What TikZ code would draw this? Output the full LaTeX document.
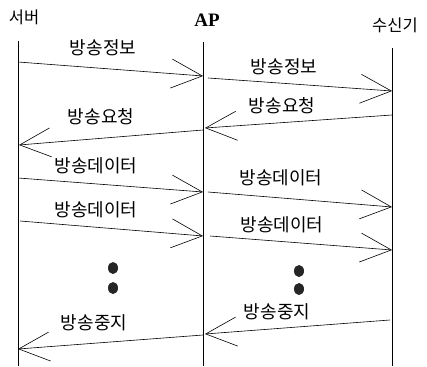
\documentclass[tikz,border=0pt]{standalone}
\usepackage{fontspec}
\newfontfamily\kr{Noto Sans CJK KR}
\newfontfamily\apfont{Liberation Serif}
\usetikzlibrary{arrows.meta,shapes.geometric}
\tikzset{
  life/.style={line width=0.7pt},
  msg/.style={line width=0.6pt,-{Straight Barb[length=31pt,width=29pt,line width=0.6pt]}},
  lbl/.style={font=\kr\fontsize{18}{18}\selectfont,inner sep=0pt},
  title/.style={font=\kr\fontsize{16.5}{16.5}\selectfont,inner sep=0pt},
  dot/.style={ellipse,fill=black!85,minimum width=10pt,minimum height=12pt,inner sep=0pt},
}
\begin{document}
\begin{tikzpicture}[x=1pt,y=-1pt]
\useasboundingbox (0,0) rectangle (427,366);
% titles
\node[title] (tS) at (24,17) {서버};
\node[font=\apfont\bfseries\fontsize{19}{19}\selectfont,inner sep=0pt] (tA) at (207,20) {AP};
\node[title] (tR) at (395,25) {수신기};
% lifelines
\coordinate (S0) at (18,41); \coordinate (S1) at (18,366);
\coordinate (A0) at (203,42); \coordinate (A1) at (203,366);
\coordinate (R0) at (392,48); \coordinate (R1) at (392,366);
\draw[life] (S0) -- (S1);
\draw[life] (A0) -- (A1);
\draw[life] (R0) -- (R1);
% endpoints
\coordinate (m1a) at (18,62);  \coordinate (m1b) at (203,76);
\coordinate (m2a) at (208,78); \coordinate (m2b) at (392,91);
\coordinate (m3a) at (392,115);\coordinate (m3b) at (205,128);
\coordinate (m4a) at (203,130);\coordinate (m4b) at (19,145);
\coordinate (m5a) at (18,178); \coordinate (m5b) at (203,192);
\coordinate (m6a) at (208,192);\coordinate (m6b) at (392,207);
\coordinate (m7a) at (20,221); \coordinate (m7b) at (203,236);
\coordinate (m8a) at (210,236);\coordinate (m8b) at (392,250);
\coordinate (m9a) at (390,320);\coordinate (m9b) at (205,334);
\coordinate (m10a) at (203,335);\coordinate (m10b) at (18,349);
% messages
\draw[msg] (m1a) -- (m1b);
\draw[msg] (m2a) -- (m2b);
\draw[msg] (m3a) -- (m3b);
\draw[msg] (m4a) -- (m4b);
\draw[msg] (m5a) -- (m5b);
\draw[msg] (m6a) -- (m6b);
\draw[msg] (m7a) -- (m7b);
\draw[msg] (m8a) -- (m8b);
\draw[msg] (m9a) -- (m9b);
\draw[msg] (m10a) -- (m10b);
% labels
\node[lbl] (l1) at (103,48) {방송정보};
\node[lbl] (l2) at (284,67) {방송정보};
\node[lbl] (l3) at (282,106) {방송요청};
\node[lbl] (l4) at (101,117) {방송요청};
\node[lbl] (l5) at (96,166) {방송데이터};
\node[lbl] (l6) at (281,178) {방송데이터};
\node[lbl] (l7) at (96,210) {방송데이터};
\node[lbl] (l8) at (282,225) {방송데이터};
\node[lbl] (l9) at (277,312) {방송중지};
\node[lbl] (l10) at (94,323) {방송중지};
% dots
\node[dot] (d1) at (113,268) {};
\node[dot] (d2) at (113,288) {};
\node[dot] (d3) at (299,271) {};
\node[dot] (d4) at (299,289) {};
\end{tikzpicture}
\end{document}
